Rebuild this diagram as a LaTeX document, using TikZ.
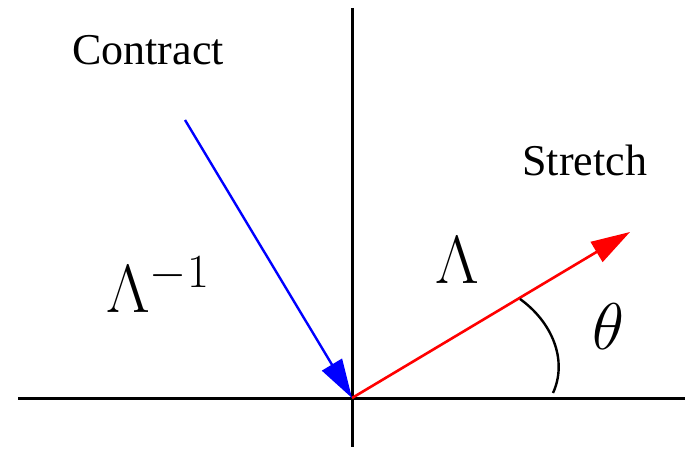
\RequirePackage{fix-cm}
\documentclass[tikz,border=0pt]{standalone}
\usepackage[no-math]{fontspec}
\setmainfont{Liberation Serif}
\usetikzlibrary{arrows.meta}
\begin{document}
\begin{tikzpicture}[x=0.5pt,y=-0.5pt]
  \useasboundingbox (0,0) rectangle (688,449);
  % axes
  \draw[black, line width=1.5pt] (18,398) -- (685,398);
  \draw[black, line width=1.5pt] (352,8) -- (352,447);
  \coordinate (O) at (352,398);
  \coordinate (S) at (630,232);
  \coordinate (C) at (185,120);
  % vectors
  \draw[red, line width=1.3pt, -{Triangle[length=19.5pt,width=11.5pt]}] (O) -- (S);
  \draw[blue, line width=1.2pt, -{Triangle[length=19.5pt,width=11.5pt]}] (C) -- (O);
  % angle
  \draw[black, line width=1.2pt] (520,299) .. controls (552,322) and (568,360) .. (553,393);
  % labels
  \node[anchor=base west, inner sep=0pt, font=\fontsize{22}{26}\selectfont] (contract) at (72,65) {Contract};
  \node[anchor=base west, inner sep=0pt, font=\fontsize{22}{26}\selectfont] (stretch) at (522,175) {Stretch};
  \node[anchor=base west, inner sep=0pt, font=\fontsize{34}{40}\selectfont] (inv) at (106,312) {\(\Lambda^{-1}\)};
  \node[anchor=base west, inner sep=0pt, font=\fontsize{34}{40}\selectfont] (lam) at (435,283) {\(\Lambda\)};
  \node[anchor=base west, inner sep=0pt, font=\fontsize{33}{40}\selectfont] (theta) at (592,349) {\(\theta\)};
\end{tikzpicture}
\end{document}
